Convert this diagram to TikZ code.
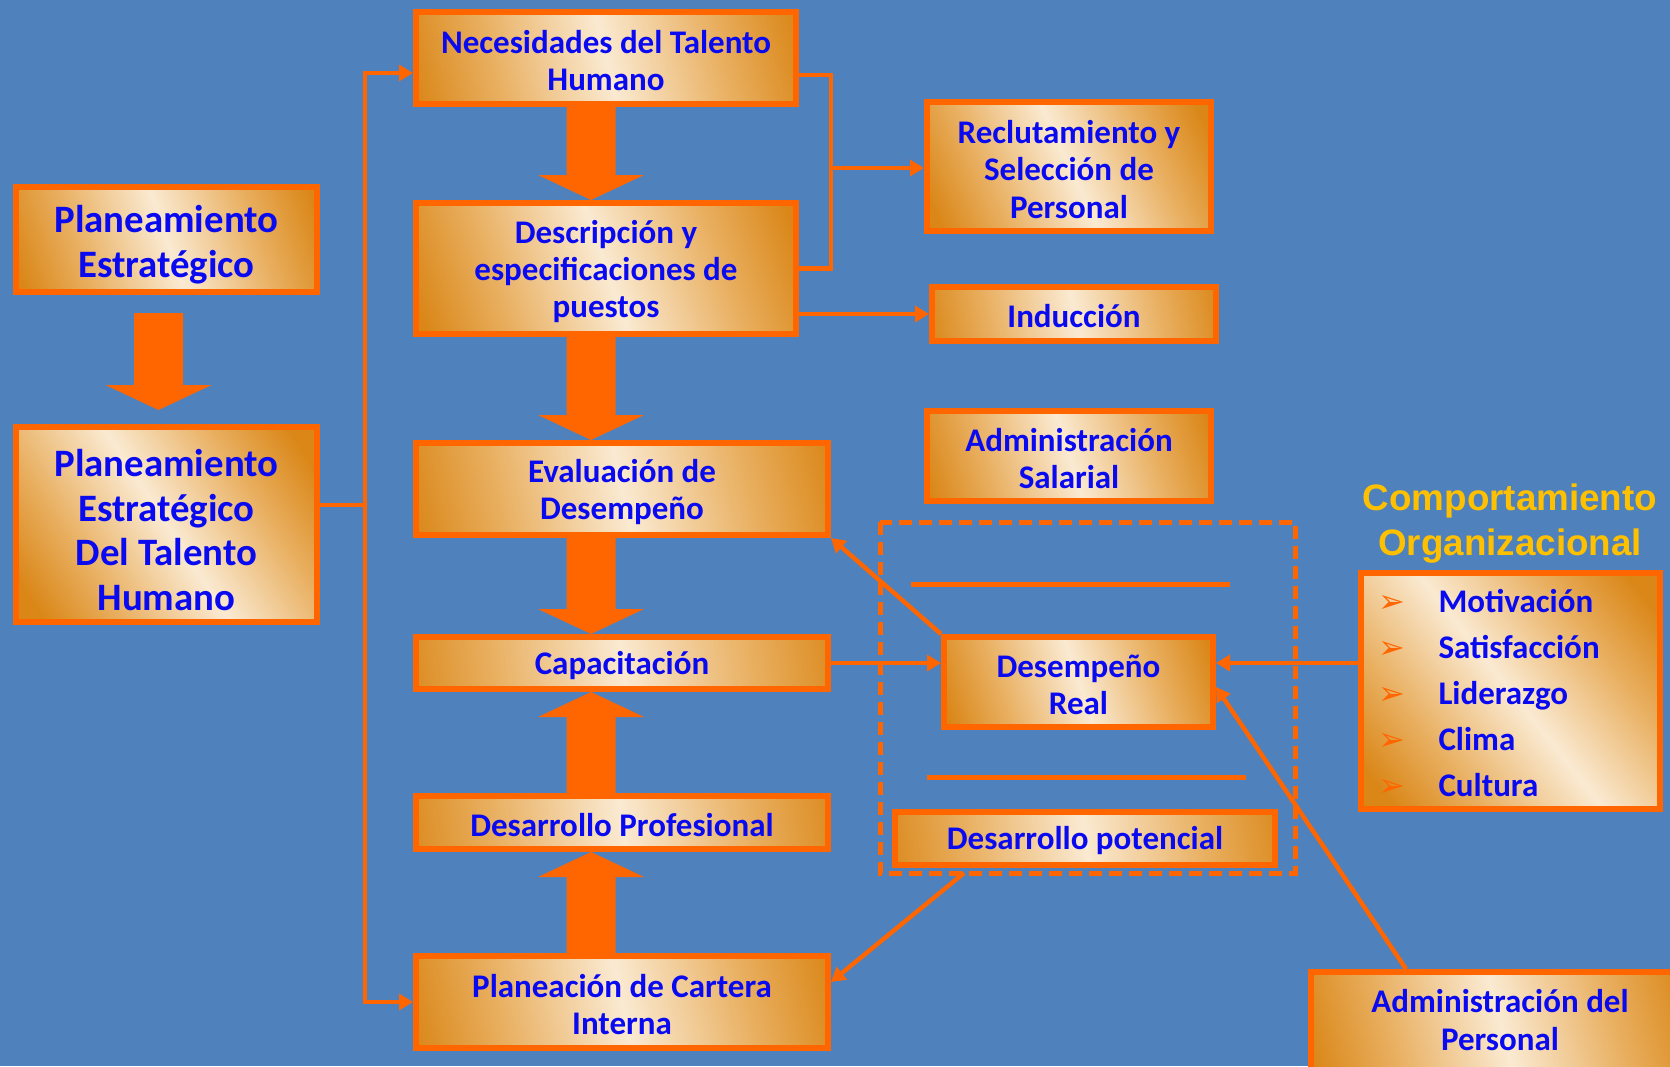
\documentclass[tikz,border=0pt]{standalone}
\usepackage{fontspec}
\setmainfont{Carlito}
\newfontfamily\titlefont{Liberation Sans}
\newfontfamily\symfont{DejaVu Sans}
\usepackage{xcolor}
\usepackage{tikz}
\usetikzlibrary{calc}
\usetikzlibrary{arrows.meta}
\definecolor{bgblue}{RGB}{79,129,189}
\definecolor{borange}{RGB}{255,102,0}
\definecolor{brdark}{RGB}{218,135,24}
\definecolor{brmid}{RGB}{233,176,98}
\definecolor{brlight}{RGB}{250,234,210}
\definecolor{tblue}{RGB}{10,10,240}
\definecolor{gold}{RGB}{255,192,0}
\pgfdeclarehorizontalshading{bronze}{100bp}{color(0bp)=(brdark); color(20bp)=(brdark);
  color(33bp)=(brmid); color(50bp)=(brlight); color(67bp)=(brmid); color(80bp)=(brdark);
  color(100bp)=(brdark)}
\tikzstyle{orbox} = [draw=borange, line width=3pt, shade, shading=bronze, shading angle=15,
text=tblue, font=\bfseries\fontsize{16.5}{18.6}\selectfont, align=center, inner sep=0pt,
execute at begin node={\rule{0pt}{14pt}}]
\tikzstyle{bigbox} = [orbox, font=\bfseries\fontsize{19.4}{22.3}\selectfont]
\tikzstyle{conn} = [draw=borange, line width=2.2pt]
\tikzstyle{conarrow} = [-{Triangle[length=7pt,width=8pt]}]
\tikzstyle{fatfill} = [fill=borange]
\tikzstyle{dashframe} = [draw=borange, line width=2.5pt, dash pattern=on 6.3pt off 3.7pt]
% broad block arrow, tail -> tip (vertical)
\newcommand{\fatarrow}[2]{%
  \fill[fatfill] ($(#1)+(-24.5,0)$) -- ($(#2)!12.5pt!(#1)+(-24.5,0)$)
    -- ($(#2)!12.5pt!(#1)+(-53,0)$) -- (#2) -- ($(#2)!12.5pt!(#1)+(53,0)$)
    -- ($(#2)!12.5pt!(#1)+(24.5,0)$) -- ($(#1)+(24.5,0)$) -- cycle;}
\newcommand{\bul}{\makebox[30pt][l]{\symfont\fontsize{16}{16}\selectfont\color{borange}➢}}
% strut for the first line of a box
\newcommand{\fl}{\rule{0pt}{14.5pt}}
\newcommand{\bfl}{\rule{0pt}{19pt}}

\begin{document}
\begin{tikzpicture}[x=0.5pt,y=-0.5pt]
        \useasboundingbox (0,0) rectangle (1670,1066);
        \fill[bgblue] (0,0) rectangle (1670,1066);
        % frame round the real performance
        \draw[dashframe] (880,522) rectangle (1295,873);
        \draw[conn, line width=2.5pt] (911,584) -- (1230,584);
        \draw[conn, line width=2.5pt] (927,777) -- (1246,777);

        % boxes (shading angle = atan(height/width) keeps the light band at 45 degrees)
        \node[bigbox, shading angle=19, minimum width=150.5pt, minimum height=52.5pt] (pe) at (166.5,239.5) {\bfl Planeamiento\\Estratégico};
        \node[bigbox, shading angle=33, minimum width=150.5pt, minimum height=97.5pt] (peth) at (166.5,524.5) {\bfl Planeamiento\\Estratégico\\Del Talento\\Humano};
        \node[orbox, shading angle=13.6, minimum width=190pt, minimum height=46pt] (nec) at (606,58) {\fl Necesidades del Talento\\Humano};
        \node[orbox, shading angle=19, minimum width=190pt, minimum height=65.5pt] (desc) at (606,268.5) {\fl Descripción y\\especificaciones de\\puestos};
        \node[orbox, shading angle=12.6, minimum width=206pt, minimum height=46pt] (eval) at (622,489) {\fl Evaluación de\\Desempeño};
        \node[orbox, shading angle=7.2, minimum width=206pt, minimum height=26pt] (cap) at (622,663) {Capacitación};
        \node[orbox, shading angle=7.3, minimum width=206pt, minimum height=26.5pt] (dprof) at (622,822.5) {Desarrollo Profesional};
        \node[orbox, shading angle=12.6, minimum width=206pt, minimum height=46pt] (plan) at (622,1002) {\fl Planeación de Cartera\\Interna};
        \node[orbox, shading angle=24.4, minimum width=142pt, minimum height=64.5pt] (recl) at (1069,166.5) {\fl Reclutamiento y\\Selección de\\Personal};
        \node[orbox, shading angle=10.8, minimum width=142pt, minimum height=27pt] (ind) at (1074,314) {Inducción};
        \node[orbox, shading angle=17.6, minimum width=142pt, minimum height=45pt] (asal) at (1069,456) {\fl Administración\\Salarial};
        \node[orbox, shading angle=18.5, minimum width=134.5pt, minimum height=45pt] (desr) at (1078.5,682) {\fl Desempeño\\Real};
        \node[orbox, shading angle=7.9, minimum width=190pt, minimum height=26.5pt] (dpot) at (1085,838.5) {Desarrollo potencial};
        \node[orbox, shading angle=38.3, minimum width=149.5pt, minimum height=118pt, text width=132pt, align=left,
          font=\bfseries\fontsize{16.5}{23}\selectfont] (comp) at (1510.5,691)
          {\bul Motivación\\\bul Satisfacción\\\bul Liderazgo\\\bul Clima\\\bul Cultura};
        \node[font=\titlefont\bfseries\fontsize{18.4}{22.5}\selectfont, text=gold, align=center] (comptitle) at (1510,524) {Comportamiento\\Organizacional};
        \node[orbox, shading angle=14.8, minimum width=189pt, minimum height=50pt, execute at begin node={}, text depth=2pt] (admper) at (1500,1022) {Administración del\\Personal};

        % block arrows
        \coordinate (spine) at (591,0);
        \coordinate (lspine) at (158.5,0);
        \coordinate (pea) at ($(pe.south -| lspine)+(0,18)$);
        \coordinate (peb) at ($(peth.north -| lspine)+(0,-14)$);
        \fatarrow{pea}{peb}
        \fatarrow{nec.south -| spine}{desc.north -| spine}
        \fatarrow{desc.south -| spine}{eval.north -| spine}
        \fatarrow{eval.south -| spine}{cap.north -| spine}
        \fatarrow{dprof.north -| spine}{cap.south -| spine}
        \fatarrow{plan.north -| spine}{dprof.south -| spine}

        % connectors
        \coordinate (lbus) at (365,505);
        \draw[conn] (peth.east |- lbus) -- (lbus);
        \draw[conn, conarrow] (lbus) |- ($(nec.west)+(0,15)$);
        \draw[conn, conarrow] (lbus) |- (plan.west);
        \coordinate (rbus) at (831,168);
        \draw[conn] ($(nec.east)+(0,17)$) -| (rbus) |- (desc.east);
        \draw[conn, conarrow] (rbus) -- (recl.west |- rbus);
        \draw[conn, conarrow] (desc.east |- ind.west) -- (ind.west);
        \draw[conn, conarrow] (desr.north west) -- (eval.south east);
        \draw[conn, conarrow] (cap.east) -- (cap.east -| desr.west);
        \draw[conn, conarrow] (comp.west |- cap.east) -- (desr.east |- cap.east);
        \draw[conn, conarrow] ($(admper.north west)+(98,0)$) -- ($(desr.east)+(0,5)$);
        \draw[conn, conarrow] ($(dpot.south west)+(72,5)$) -- ($(plan.east)+(0,-20)$);
    \end{tikzpicture}
\end{document}
